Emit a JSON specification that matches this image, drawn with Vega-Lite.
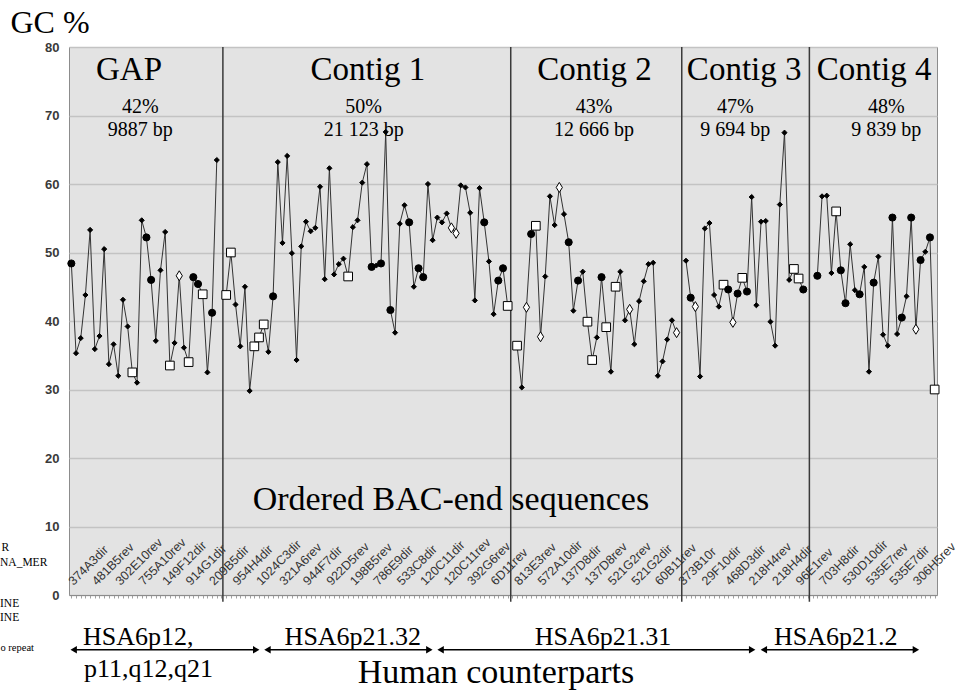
{
  "$schema": "https://vega.github.io/schema/vega-lite/v6.json",
  "autosize": "none",
  "width": 868,
  "height": 548,
  "padding": {"left": 69, "top": 47, "right": 28, "bottom": 97},
  "background": "white",
  "config": {
    "view": {"fill": "#e3e3e3", "stroke": "#8c8c8c", "strokeWidth": 1},
    "text": {"font": "Liberation Serif", "color": "#000"}
  },
  "datasets": {
    "pts": [
      {"i":0,"gc":48.4,"t":"c","g":"GAP"},{"i":1,"gc":35.3,"t":"s","g":"GAP"},{"i":2,"gc":37.5,"t":"s","g":"GAP"},{"i":3,"gc":43.8,"t":"s","g":"GAP"},{"i":4,"gc":53.3,"t":"s","g":"GAP"},{"i":5,"gc":35.9,"t":"s","g":"GAP"},{"i":6,"gc":37.8,"t":"s","g":"GAP"},{"i":7,"gc":50.5,"t":"s","g":"GAP"},{"i":8,"gc":33.7,"t":"s","g":"GAP"},{"i":9,"gc":36.6,"t":"s","g":"GAP"},{"i":10,"gc":32.0,"t":"s","g":"GAP"},{"i":11,"gc":43.1,"t":"s","g":"GAP"},{"i":12,"gc":39.2,"t":"s","g":"GAP"},{"i":13,"gc":32.5,"t":"q","g":"GAP"},{"i":14,"gc":31.0,"t":"s","g":"GAP"},{"i":15,"gc":54.7,"t":"s","g":"GAP"},{"i":16,"gc":52.2,"t":"c","g":"GAP"},{"i":17,"gc":46.0,"t":"c","g":"GAP"},{"i":18,"gc":37.1,"t":"s","g":"GAP"},{"i":19,"gc":47.4,"t":"s","g":"GAP"},{"i":20,"gc":53.0,"t":"s","g":"GAP"},{"i":21,"gc":33.5,"t":"q","g":"GAP"},{"i":22,"gc":36.8,"t":"s","g":"GAP"},{"i":23,"gc":46.6,"t":"d","g":"GAP"},{"i":24,"gc":36.1,"t":"s","g":"GAP"},{"i":25,"gc":34.0,"t":"q","g":"GAP"},{"i":26,"gc":46.4,"t":"c","g":"GAP"},{"i":27,"gc":45.4,"t":"c","g":"GAP"},{"i":28,"gc":43.9,"t":"q","g":"GAP"},{"i":29,"gc":32.5,"t":"s","g":"GAP"},{"i":30,"gc":41.2,"t":"c","g":"GAP"},{"i":31,"gc":63.5,"t":"s","g":"GAP"},
      {"i":33,"gc":43.8,"t":"q","g":"C1"},{"i":34,"gc":50.0,"t":"q","g":"C1"},{"i":35,"gc":42.4,"t":"s","g":"C1"},{"i":36,"gc":36.3,"t":"s","g":"C1"},{"i":37,"gc":45.0,"t":"s","g":"C1"},{"i":38,"gc":29.8,"t":"s","g":"C1"},{"i":39,"gc":36.3,"t":"q","g":"C1"},{"i":40,"gc":37.6,"t":"q","g":"C1"},{"i":41,"gc":39.5,"t":"q","g":"C1"},{"i":42,"gc":35.5,"t":"s","g":"C1"},{"i":43,"gc":43.6,"t":"c","g":"C1"},{"i":44,"gc":63.2,"t":"s","g":"C1"},{"i":45,"gc":51.4,"t":"s","g":"C1"},{"i":46,"gc":64.1,"t":"s","g":"C1"},{"i":47,"gc":49.9,"t":"s","g":"C1"},{"i":48,"gc":34.3,"t":"s","g":"C1"},{"i":49,"gc":50.9,"t":"s","g":"C1"},{"i":50,"gc":54.5,"t":"s","g":"C1"},{"i":51,"gc":53.1,"t":"s","g":"C1"},{"i":52,"gc":53.6,"t":"s","g":"C1"},{"i":53,"gc":59.6,"t":"s","g":"C1"},{"i":54,"gc":46.1,"t":"s","g":"C1"},{"i":55,"gc":62.3,"t":"s","g":"C1"},{"i":56,"gc":46.8,"t":"s","g":"C1"},{"i":57,"gc":48.3,"t":"s","g":"C1"},{"i":58,"gc":49.1,"t":"s","g":"C1"},{"i":59,"gc":46.5,"t":"q","g":"C1"},{"i":60,"gc":53.7,"t":"s","g":"C1"},{"i":61,"gc":54.7,"t":"s","g":"C1"},{"i":62,"gc":60.2,"t":"s","g":"C1"},{"i":63,"gc":62.9,"t":"s","g":"C1"},{"i":64,"gc":47.9,"t":"c","g":"C1"},{"i":65,"gc":48.1,"t":"s","g":"C1"},{"i":66,"gc":48.4,"t":"c","g":"C1"},{"i":67,"gc":67.6,"t":"s","g":"C1"},{"i":68,"gc":41.6,"t":"c","g":"C1"},{"i":69,"gc":38.3,"t":"s","g":"C1"},{"i":70,"gc":54.2,"t":"s","g":"C1"},{"i":71,"gc":56.9,"t":"s","g":"C1"},{"i":72,"gc":54.4,"t":"c","g":"C1"},{"i":73,"gc":45.0,"t":"s","g":"C1"},{"i":74,"gc":47.7,"t":"c","g":"C1"},{"i":75,"gc":46.4,"t":"c","g":"C1"},{"i":76,"gc":60.0,"t":"s","g":"C1"},{"i":77,"gc":51.8,"t":"s","g":"C1"},{"i":78,"gc":55.1,"t":"s","g":"C1"},{"i":79,"gc":54.4,"t":"s","g":"C1"},{"i":80,"gc":55.7,"t":"s","g":"C1"},{"i":81,"gc":53.6,"t":"d","g":"C1"},{"i":82,"gc":52.8,"t":"d","g":"C1"},{"i":83,"gc":59.8,"t":"s","g":"C1"},{"i":84,"gc":59.5,"t":"s","g":"C1"},{"i":85,"gc":55.8,"t":"s","g":"C1"},{"i":86,"gc":43.0,"t":"s","g":"C1"},{"i":87,"gc":59.4,"t":"s","g":"C1"},{"i":88,"gc":54.4,"t":"c","g":"C1"},{"i":89,"gc":48.7,"t":"s","g":"C1"},{"i":90,"gc":41.0,"t":"s","g":"C1"},{"i":91,"gc":45.9,"t":"c","g":"C1"},{"i":92,"gc":47.7,"t":"c","g":"C1"},{"i":93,"gc":42.2,"t":"q","g":"C1"},
      {"i":95,"gc":36.4,"t":"q","g":"C2"},{"i":96,"gc":30.3,"t":"s","g":"C2"},{"i":97,"gc":42.0,"t":"d","g":"C2"},{"i":98,"gc":52.7,"t":"c","g":"C2"},{"i":99,"gc":53.9,"t":"q","g":"C2"},{"i":100,"gc":37.7,"t":"d","g":"C2"},{"i":101,"gc":46.5,"t":"s","g":"C2"},{"i":102,"gc":58.2,"t":"s","g":"C2"},{"i":103,"gc":54.0,"t":"s","g":"C2"},{"i":104,"gc":59.5,"t":"d","g":"C2"},{"i":105,"gc":55.6,"t":"s","g":"C2"},{"i":106,"gc":51.5,"t":"c","g":"C2"},{"i":107,"gc":41.5,"t":"s","g":"C2"},{"i":108,"gc":45.9,"t":"c","g":"C2"},{"i":109,"gc":47.2,"t":"s","g":"C2"},{"i":110,"gc":39.9,"t":"q","g":"C2"},{"i":111,"gc":34.3,"t":"q","g":"C2"},{"i":112,"gc":37.6,"t":"s","g":"C2"},{"i":113,"gc":46.4,"t":"c","g":"C2"},{"i":114,"gc":39.1,"t":"q","g":"C2"},{"i":115,"gc":32.6,"t":"s","g":"C2"},{"i":116,"gc":45.0,"t":"q","g":"C2"},{"i":117,"gc":47.2,"t":"s","g":"C2"},{"i":118,"gc":40.1,"t":"s","g":"C2"},{"i":119,"gc":41.7,"t":"d","g":"C2"},{"i":120,"gc":36.6,"t":"s","g":"C2"},{"i":121,"gc":42.9,"t":"s","g":"C2"},{"i":122,"gc":45.8,"t":"s","g":"C2"},{"i":123,"gc":48.3,"t":"s","g":"C2"},{"i":124,"gc":48.5,"t":"s","g":"C2"},{"i":125,"gc":32.0,"t":"s","g":"C2"},{"i":126,"gc":34.1,"t":"s","g":"C2"},{"i":127,"gc":37.3,"t":"s","g":"C2"},{"i":128,"gc":40.1,"t":"s","g":"C2"},{"i":129,"gc":38.3,"t":"d","g":"C2"},
      {"i":131,"gc":48.8,"t":"s","g":"C3"},{"i":132,"gc":43.4,"t":"c","g":"C3"},{"i":133,"gc":42.1,"t":"d","g":"C3"},{"i":134,"gc":31.9,"t":"s","g":"C3"},{"i":135,"gc":53.5,"t":"s","g":"C3"},{"i":136,"gc":54.3,"t":"s","g":"C3"},{"i":137,"gc":43.8,"t":"s","g":"C3"},{"i":138,"gc":42.1,"t":"s","g":"C3"},{"i":139,"gc":45.3,"t":"q","g":"C3"},{"i":140,"gc":44.6,"t":"c","g":"C3"},{"i":141,"gc":39.8,"t":"d","g":"C3"},{"i":142,"gc":44.0,"t":"c","g":"C3"},{"i":143,"gc":46.3,"t":"q","g":"C3"},{"i":144,"gc":44.3,"t":"c","g":"C3"},{"i":145,"gc":58.1,"t":"s","g":"C3"},{"i":146,"gc":42.3,"t":"s","g":"C3"},{"i":147,"gc":54.5,"t":"s","g":"C3"},{"i":148,"gc":54.6,"t":"s","g":"C3"},{"i":149,"gc":39.9,"t":"s","g":"C3"},{"i":150,"gc":36.4,"t":"s","g":"C3"},{"i":151,"gc":57.0,"t":"s","g":"C3"},{"i":152,"gc":67.5,"t":"s","g":"C3"},{"i":153,"gc":46.0,"t":"s","g":"C3"},{"i":154,"gc":47.6,"t":"q","g":"C3"},{"i":155,"gc":46.2,"t":"q","g":"C3"},{"i":156,"gc":44.6,"t":"c","g":"C3"},
      {"i":159,"gc":46.6,"t":"c","g":"C4"},{"i":160,"gc":58.2,"t":"s","g":"C4"},{"i":161,"gc":58.3,"t":"s","g":"C4"},{"i":162,"gc":47.0,"t":"s","g":"C4"},{"i":163,"gc":56.0,"t":"q","g":"C4"},{"i":164,"gc":47.4,"t":"c","g":"C4"},{"i":165,"gc":42.6,"t":"c","g":"C4"},{"i":166,"gc":51.2,"t":"s","g":"C4"},{"i":167,"gc":44.5,"t":"s","g":"C4"},{"i":168,"gc":43.9,"t":"c","g":"C4"},{"i":169,"gc":47.9,"t":"s","g":"C4"},{"i":170,"gc":32.6,"t":"s","g":"C4"},{"i":171,"gc":45.6,"t":"c","g":"C4"},{"i":172,"gc":49.4,"t":"s","g":"C4"},{"i":173,"gc":38.0,"t":"s","g":"C4"},{"i":174,"gc":36.4,"t":"s","g":"C4"},{"i":175,"gc":55.1,"t":"c","g":"C4"},{"i":176,"gc":38.1,"t":"s","g":"C4"},{"i":177,"gc":40.5,"t":"c","g":"C4"},{"i":178,"gc":43.6,"t":"s","g":"C4"},{"i":179,"gc":55.1,"t":"c","g":"C4"},{"i":180,"gc":38.8,"t":"d","g":"C4"},{"i":181,"gc":48.9,"t":"c","g":"C4"},{"i":182,"gc":50.1,"t":"s","g":"C4"},{"i":183,"gc":52.2,"t":"c","g":"C4"},{"i":184,"gc":30.0,"t":"q","g":"C4"}
    ],
    "labs": [
      {"i":0,"lab":"374A3dir"},{"i":5,"lab":"481B5rev"},{"i":10,"lab":"302E10rev"},{"i":15,"lab":"755A10rev"},{"i":20,"lab":"149F12dir"},{"i":25,"lab":"914G1dir"},{"i":30,"lab":"209B5dir"},{"i":35,"lab":"954H4dir"},{"i":40,"lab":"1024C3dir"},{"i":45,"lab":"321A6rev"},{"i":50,"lab":"944F7dir"},{"i":55,"lab":"922D5rev"},{"i":60,"lab":"198B5rev"},{"i":65,"lab":"786E9dir"},{"i":70,"lab":"533C8dir"},{"i":75,"lab":"120C11dir"},{"i":80,"lab":"120C11rev"},{"i":85,"lab":"392G6rev"},{"i":90,"lab":"6D11rev"},{"i":95,"lab":"813E3rev"},{"i":100,"lab":"572A10dir"},{"i":105,"lab":"137D8dir"},{"i":110,"lab":"137D8rev"},{"i":115,"lab":"521G2rev"},{"i":120,"lab":"521G2dir"},{"i":125,"lab":"60B11rev"},{"i":130,"lab":"373B10r"},{"i":135,"lab":"29F10dir"},{"i":140,"lab":"468D3dir"},{"i":145,"lab":"218H4rev"},{"i":150,"lab":"218H4dir"},{"i":155,"lab":"96E1rev"},{"i":160,"lab":"703H8dir"},{"i":165,"lab":"530D10dir"},{"i":170,"lab":"535E7rev"},{"i":175,"lab":"535E7dir"},{"i":180,"lab":"306H5rev"}
    ]
  },
  "layer": [
    {
      "data": {"name": "pts"},
      "mark": {"type": "line", "color": "#333", "strokeWidth": 1},
      "encoding": {
        "x": {"field": "i", "type": "quantitative", "scale": {"domain": [-0.5, 184.5], "nice": false, "zero": false},
              "axis": {"labels": false, "title": null, "grid": false, "domain": true, "domainColor": "#8c8c8c", "ticks": true, "tickCount": 185, "tickSize": 3, "tickColor": "#a0a0a0"}},
        "y": {"field": "gc", "type": "quantitative", "scale": {"domain": [0, 80], "nice": false, "zero": false},
              "axis": {"values": [0,10,20,30,40,50,60,70,80], "grid": true, "gridColor": "#c3c3c3", "gridWidth": 1.5, "domain": false, "ticks": false,
                       "labelFont": "Liberation Sans", "labelFontSize": 13, "labelFontWeight": "bold", "labelColor": "#3a3a3a", "labelPadding": 10,
                       "title": "GC %", "titleFont": "Liberation Serif", "titleFontSize": 32, "titleFontWeight": "normal", "titleColor": "#000",
                       "titleAngle": 0, "titleAlign": "left", "titleBaseline": "alphabetic", "titleX": -59, "titleY": -15}},
        "detail": {"field": "g"}
      }
    },
    {
      "data": {"values": [{"i":32.3},{"i":93.65},{"i":130.1},{"i":157.3}]},
      "mark": {"type": "rule", "color": "#3a3a3a", "strokeWidth": 1.5},
      "encoding": {
        "x": {"field": "i", "type": "quantitative", "scale": {"domain": [-0.5, 184.5], "nice": false, "zero": false}},
        "y": {"datum": -1, "type": "quantitative", "scale": {"domain": [0, 80], "nice": false, "zero": false}},
        "y2": {"datum": 80}
      }
    },
    {
      "data": {"name": "pts"},
      "mark": {"type": "point", "filled": true, "opacity": 1, "stroke": "#000", "strokeWidth": 1},
      "encoding": {
        "x": {"field": "i", "type": "quantitative", "scale": {"domain": [-0.5, 184.5], "nice": false, "zero": false}},
        "y": {"field": "gc", "type": "quantitative", "scale": {"domain": [0, 80], "nice": false, "zero": false}},
        "shape": {"field": "t", "type": "nominal", "legend": null,
                  "scale": {"domain": ["s","c","q","d"], "range": ["diamond","circle","square","M0,-1L0.62,0L0,1L-0.62,0Z"]}},
        "size": {"field": "t", "type": "nominal", "legend": null,
                 "scale": {"domain": ["s","c","q","d"], "range": [26, 100, 85, 150]}},
        "fill": {"field": "t", "type": "nominal", "legend": null,
                 "scale": {"domain": ["s","c","q","d"], "range": ["#000","#000","#fff","#fff"]}}
      }
    },
    {
      "data": {"name": "labs"},
      "mark": {"type": "text", "angle": 315, "align": "left", "baseline": "alphabetic", "font": "Liberation Sans", "fontSize": 12.5, "color": "#333", "dx": 3},
      "encoding": {
        "x": {"field": "i", "type": "quantitative", "scale": {"domain": [-0.5, 184.5], "nice": false, "zero": false}},
        "y": {"datum": 1.0, "type": "quantitative", "scale": {"domain": [0, 80], "nice": false, "zero": false}},
        "text": {"field": "lab"}
      }
    },
    {
      "data": {"values": [
        {"i": 12.3, "gc": 75.2, "txt": "GAP"},
        {"i": 63.2, "gc": 75.2, "txt": "Contig 1"},
        {"i": 111.5, "gc": 75.2, "txt": "Contig 2"},
        {"i": 143.4, "gc": 75.2, "txt": "Contig 3"},
        {"i": 171.1, "gc": 75.2, "txt": "Contig 4"}
      ]},
      "mark": {"type": "text", "fontSize": 33, "align": "center", "baseline": "alphabetic"},
      "encoding": {
        "x": {"field": "i", "type": "quantitative", "scale": {"domain": [-0.5, 184.5], "nice": false, "zero": false}},
        "y": {"field": "gc", "type": "quantitative", "scale": {"domain": [0, 80], "nice": false, "zero": false}},
        "text": {"field": "txt"}
      }
    },
    {
      "data": {"values": [
        {"i": 14.7, "gc": 70.4, "txt": "42%"}, {"i": 14.7, "gc": 67.0, "txt": "9887 bp"},
        {"i": 62.3, "gc": 70.4, "txt": "50%"}, {"i": 62.3, "gc": 67.0, "txt": "21 123 bp"},
        {"i": 111.4, "gc": 70.4, "txt": "43%"}, {"i": 111.4, "gc": 67.0, "txt": "12 666 bp"},
        {"i": 141.5, "gc": 70.4, "txt": "47%"}, {"i": 141.5, "gc": 67.0, "txt": "9 694 bp"},
        {"i": 173.7, "gc": 70.4, "txt": "48%"}, {"i": 173.7, "gc": 67.0, "txt": "9 839 bp"}
      ]},
      "mark": {"type": "text", "fontSize": 20, "align": "center", "baseline": "alphabetic"},
      "encoding": {
        "x": {"field": "i", "type": "quantitative", "scale": {"domain": [-0.5, 184.5], "nice": false, "zero": false}},
        "y": {"field": "gc", "type": "quantitative", "scale": {"domain": [0, 80], "nice": false, "zero": false}},
        "text": {"field": "txt"}
      }
    },
    {
      "data": {"values": [
        {"i": 80.9, "gc": 12.4, "txt": "Ordered BAC-end sequences"},
        {"i": 90.5, "gc": -12.8, "txt": "Human counterparts"}
      ]},
      "mark": {"type": "text", "fontSize": 34, "align": "center", "baseline": "alphabetic"},
      "encoding": {
        "x": {"field": "i", "type": "quantitative", "scale": {"domain": [-0.5, 184.5], "nice": false, "zero": false}},
        "y": {"field": "gc", "type": "quantitative", "scale": {"domain": [0, 80], "nice": false, "zero": false}},
        "text": {"field": "txt"}
      }
    },
    {
      "data": {"values": [
        {"i": 2.5, "gc": -7.3, "txt": "HSA6p12,"},
        {"i": 2.7, "gc": -12.0, "txt": "p11,q12,q21"}
      ]},
      "mark": {"type": "text", "fontSize": 26, "align": "left", "baseline": "alphabetic"},
      "encoding": {
        "x": {"field": "i", "type": "quantitative", "scale": {"domain": [-0.5, 184.5], "nice": false, "zero": false}},
        "y": {"field": "gc", "type": "quantitative", "scale": {"domain": [0, 80], "nice": false, "zero": false}},
        "text": {"field": "txt"}
      }
    },
    {
      "data": {"values": [
        {"i": 60.0, "gc": -7.3, "txt": "HSA6p21.32"},
        {"i": 113.3, "gc": -7.3, "txt": "HSA6p21.31"},
        {"i": 162.9, "gc": -7.3, "txt": "HSA6p21.2"}
      ]},
      "mark": {"type": "text", "fontSize": 26, "align": "center", "baseline": "alphabetic"},
      "encoding": {
        "x": {"field": "i", "type": "quantitative", "scale": {"domain": [-0.5, 184.5], "nice": false, "zero": false}},
        "y": {"field": "gc", "type": "quantitative", "scale": {"domain": [0, 80], "nice": false, "zero": false}},
        "text": {"field": "txt"}
      }
    },
    {
      "data": {"values": [
        {"i": -14.9, "gc": 6.9, "txt": "R"},
        {"i": -15.2, "gc": 4.7, "txt": "NA_MER"},
        {"i": -15.2, "gc": -1.3, "txt": "INE"},
        {"i": -15.2, "gc": -3.3, "txt": "INE"}
      ]},
      "mark": {"type": "text", "fontSize": 11.5, "align": "left", "baseline": "middle"},
      "encoding": {
        "x": {"field": "i", "type": "quantitative", "scale": {"domain": [-0.5, 184.5], "nice": false, "zero": false}},
        "y": {"field": "gc", "type": "quantitative", "scale": {"domain": [0, 80], "nice": false, "zero": false}},
        "text": {"field": "txt"}
      }
    },
    {
      "data": {"values": [
        {"i": -15.1, "gc": -7.7, "txt": "o repeat"}
      ]},
      "mark": {"type": "text", "fontSize": 10.5, "align": "left", "baseline": "middle"},
      "encoding": {
        "x": {"field": "i", "type": "quantitative", "scale": {"domain": [-0.5, 184.5], "nice": false, "zero": false}},
        "y": {"field": "gc", "type": "quantitative", "scale": {"domain": [0, 80], "nice": false, "zero": false}},
        "text": {"field": "txt"}
      }
    },
    {
      "data": {"values": [
        {"a": 0.5, "b": 39.4}, {"a": 41.8, "b": 76.3}, {"a": 78.7, "b": 145.1}, {"a": 147.6, "b": 180.0}
      ]},
      "layer": [
        {
          "mark": {"type": "rule", "color": "#000", "strokeWidth": 1.5},
          "encoding": {
            "x": {"field": "a", "type": "quantitative", "scale": {"domain": [-0.5, 184.5], "nice": false, "zero": false}},
            "x2": {"field": "b"},
            "y": {"datum": -8.0, "type": "quantitative", "scale": {"domain": [0, 80], "nice": false, "zero": false}}
          }
        },
        {
          "mark": {"type": "point", "shape": "triangle-left", "filled": true, "color": "#000", "size": 55, "opacity": 1},
          "encoding": {
            "x": {"field": "a", "type": "quantitative", "scale": {"domain": [-0.5, 184.5], "nice": false, "zero": false}},
            "y": {"datum": -8.0, "type": "quantitative", "scale": {"domain": [0, 80], "nice": false, "zero": false}}
          }
        },
        {
          "mark": {"type": "point", "shape": "triangle-right", "filled": true, "color": "#000", "size": 55, "opacity": 1},
          "encoding": {
            "x": {"field": "b", "type": "quantitative", "scale": {"domain": [-0.5, 184.5], "nice": false, "zero": false}},
            "y": {"datum": -8.0, "type": "quantitative", "scale": {"domain": [0, 80], "nice": false, "zero": false}}
          }
        }
      ]
    }
  ]
}
